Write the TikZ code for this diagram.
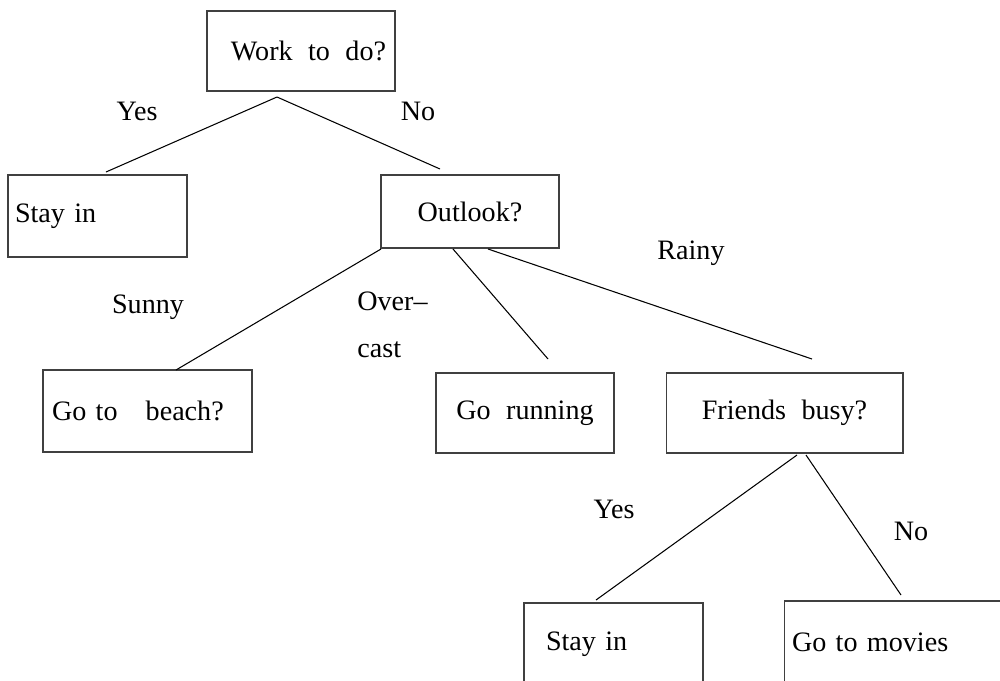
\documentclass[tikz,border=0pt]{standalone}
\usepackage{fontspec}
\setmainfont{Liberation Serif}[WordSpace=2.2]
\begin{document}
\begin{tikzpicture}[x=0.02cm,y=-0.02cm,
  box/.style={draw=black!75,line width=0.6pt,rectangle,inner sep=0pt,
    font=\fontsize{16}{19}\selectfont},
  lbox/.style={box,align=left},
  lbl/.style={inner sep=0pt,font=\fontsize{16}{19}\selectfont},
  edge/.style={line width=0.6pt}]
  \useasboundingbox (0,0) rectangle (1000,680);
  % boxes
  \node[box,minimum width=3.76cm,minimum height=1.6cm] (work) at (301,51) {\hspace*{0.3cm}Work to do?};
  \node[lbox,inner xsep=0.14cm,text width=3.3cm,minimum height=1.64cm] (stay) at (97.5,216) {Stay in};
  \node[box,minimum width=3.56cm,minimum height=1.46cm] (outlook) at (470,211.5) {Outlook?};
  \node[lbox,inner xsep=0.18cm,text width=3.82cm,minimum height=1.64cm] (beach) at (147.5,411) {Go to\ \ \ beach?};
  \node[box,minimum width=3.56cm,minimum height=1.6cm] (running) at (525,413) {Go running};
  \node[box,minimum width=4.74cm,minimum height=1.6cm] (friends) at (784.5,413) {Friends busy?};
  \node[lbox,inner xsep=0.44cm,text width=2.7cm,minimum height=1.64cm] (staytwo) at (613.5,644) {Stay in};
  \node[lbox,inner xsep=0.16cm,text width=4.2cm,minimum height=1.64cm] (movies) at (897,642) {Go to movies};
  % connector ends
  \coordinate (work-s) at (277,97);
  \coordinate (stay-n) at (106,172);
  \coordinate (outlook-n) at (440,169);
  \coordinate (outlook-sw) at (381,249);
  \coordinate (outlook-s) at (453,249);
  \coordinate (outlook-se) at (488,249);
  \coordinate (beach-n) at (176,370);
  \coordinate (running-n) at (548,359);
  \coordinate (friends-n) at (812,359);
  \coordinate (friends-sw) at (797,455);
  \coordinate (friends-se) at (806,455);
  \coordinate (staytwo-n) at (596,600);
  \coordinate (movies-n) at (901,595);
  % connectors
  \draw[edge] (work-s) -- (stay-n);
  \draw[edge] (work-s) -- (outlook-n);
  \draw[edge] (outlook-sw) -- (beach-n);
  \draw[edge] (outlook-s) -- (running-n);
  \draw[edge] (outlook-se) -- (friends-n);
  \draw[edge] (friends-sw) -- (staytwo-n);
  \draw[edge] (friends-se) -- (movies-n);
  % labels
  \node[lbl,anchor=base] (yesone) at (137,120) {Yes};
  \node[lbl,anchor=base] (noone) at (418,120) {No};
  \node[lbl,anchor=base] (sunny) at (148,313) {Sunny};
  \node[lbl,anchor=north west,align=left] (overcast) at (357,292) {Over--\\[7.5pt]cast};
  \node[lbl,anchor=base] (rainy) at (691,259) {Rainy};
  \node[lbl,anchor=base] (yestwo) at (614,518) {Yes};
  \node[lbl,anchor=base] (notwo) at (911,540) {No};
\end{tikzpicture}
\end{document}
